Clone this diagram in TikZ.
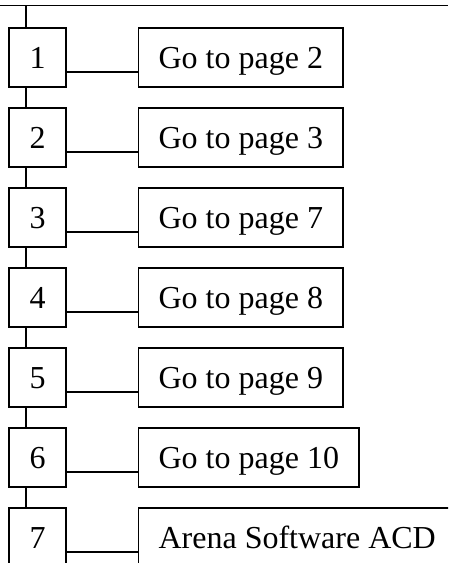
\documentclass[tikz,border=0pt]{standalone}
\usepackage{fontspec}
\setmainfont{Liberation Serif}
\begin{document}
\begin{tikzpicture}[x=1pt,y=-1pt,line width=1.2pt,
  numbox/.style={draw,minimum width=57pt,minimum height=59pt,inner sep=0pt,font=\fontsize{32}{36}\selectfont,text height=22pt,text depth=0pt},
  pagebox/.style={draw,anchor=west,minimum height=59pt,inner xsep=20pt,inner ysep=0pt,font=\fontsize{32}{36}\selectfont,text height=22pt,text depth=0pt}]
\useasboundingbox (0,0) rectangle (448,563);
\clip (0,0) rectangle (448,563);
\coordinate (tl) at (0,5.7);
\coordinate (tr) at (448,5.7);
\coordinate (tv) at (26,5.7);
\draw (tl) -- (tr);
\foreach \i/\t in {1/Go to page 2,2/Go to page 3,3/Go to page 7,4/Go to page 8,5/Go to page 9,6/Go to page 10,7/Arena Software ACD}{
  \node[numbox] (n\i) at (37.5,{57.5+80*(\i-1)}) {\i};
  \node[pagebox] (p\i) at (138,{57.5+80*(\i-1)}) {\t};
  \draw ([yshift=-14.5pt]n\i.east) -- ([yshift=-14.5pt]p\i.west);
}
\draw (tv) -- ([xshift=-11.5pt]n1.north);
\foreach \i/\j in {1/2,2/3,3/4,4/5,5/6,6/7}{
  \draw ([xshift=-11.5pt]n\i.south) -- ([xshift=-11.5pt]n\j.north);
}
\end{tikzpicture}
\end{document}
